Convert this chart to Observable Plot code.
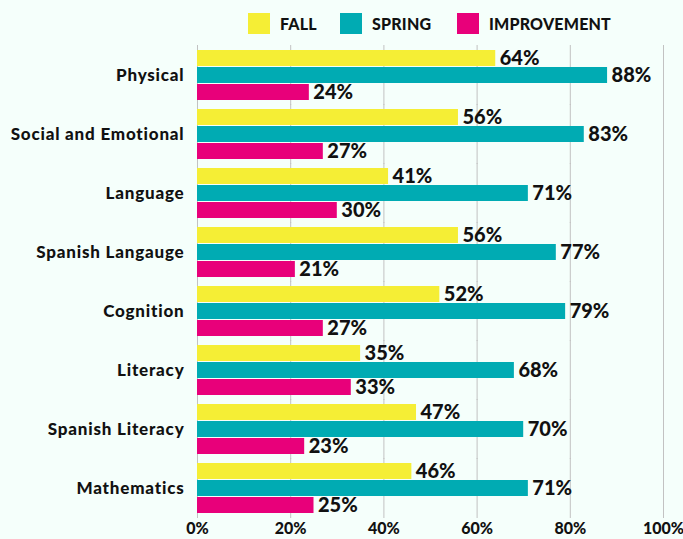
<!DOCTYPE html>
<html>
<head>
<meta charset="utf-8">
<script src="https://cdn.jsdelivr.net/npm/d3@7"></script>
<script src="https://cdn.jsdelivr.net/npm/@observablehq/plot@0.6"></script>
<style>
  html, body { margin: 0; padding: 0; background: #f5fffb; }
  body { width: 683px; height: 539px; overflow: hidden; font-family: Lato, "Noto Sans", sans-serif; }
  #legend { position: relative; height: 40px; }
  .item { position: absolute; top: 12px; height: 22px; display: flex; align-items: center; }
  .sw { width: 22px; height: 21px; margin-right: 10px; }
  .lab { font-weight: 900; font-size: 16px; color: #111; letter-spacing: 0.2px; }
  svg g[aria-label^="fy-axis"] text { font-size: 17px; letter-spacing: 0.8px; }
  svg g[aria-label^="x-axis"] text { font-size: 16px; }
</style>
</head>
<body>
<div id="legend"></div>
<div id="chart"></div>
<script>
const categories = ["Physical", "Social and Emotional", "Language", "Spanish Langauge", "Cognition", "Literacy", "Spanish Literacy", "Mathematics"];
const seriesNames = ["FALL", "SPRING", "IMPROVEMENT"];
const seriesColors = ["#f5ee35", "#00abb3", "#e8007a"];
const fall = [64, 56, 41, 56, 52, 35, 47, 46];
const spring = [88, 83, 71, 77, 79, 68, 70, 71];
const improvement = [24, 27, 30, 21, 27, 33, 23, 25];
const xTicks = [0, 20, 40, 60, 80, 100];

const seriesValues = [fall, spring, improvement];
const data = [];
categories.forEach((c, i) => {
  seriesNames.forEach((s, j) => data.push({category: c, series: s, value: seriesValues[j][i]}));
});

// legend
const legend = document.getElementById("legend");
const legendLeft = [248, 340, 457];
seriesNames.forEach((s, j) => {
  const it = document.createElement("div");
  it.className = "item";
  it.style.left = legendLeft[j] + "px";
  it.innerHTML = `<div class="sw" style="background:${seriesColors[j]}"></div><span class="lab">${s}</span>`;
  legend.appendChild(it);
});

const chart = Plot.plot({
  width: 683,
  height: 499,
  marginTop: 8,
  marginBottom: 24,
  marginLeft: 197,
  marginRight: 20,
  style: {background: "transparent", fontFamily: "Lato, 'Noto Sans', sans-serif", fontWeight: 900, color: "#111", fontSize: "16px"},
  facet: {data, y: "category"},
  fy: {domain: categories, paddingInner: 0.113, paddingOuter: 0, label: null, tickSize: 0, tickPadding: 13},
  y: {domain: seriesNames, axis: null, paddingInner: 0.04, paddingOuter: 0},
  x: {domain: [0, 100], ticks: xTicks, tickFormat: d => d + "%", tickSize: 0, tickPadding: 8, label: null},
  color: {domain: seriesNames, range: seriesColors},
  marks: [
    Plot.ruleX(xTicks, {x: d => d, stroke: "#c2c2c2", strokeWidth: 1, insetTop: -4, insetBottom: -4}),
    Plot.barX(data, {x: "value", y: "series", fill: "series"}),
    Plot.text(data, {x: "value", y: "series", text: d => d.value + "%", textAnchor: "start", dx: 4, fontSize: 20, fontWeight: 900, fill: "#111"})
  ]
});
document.getElementById("chart").appendChild(chart);
</script>
</body>
</html>
